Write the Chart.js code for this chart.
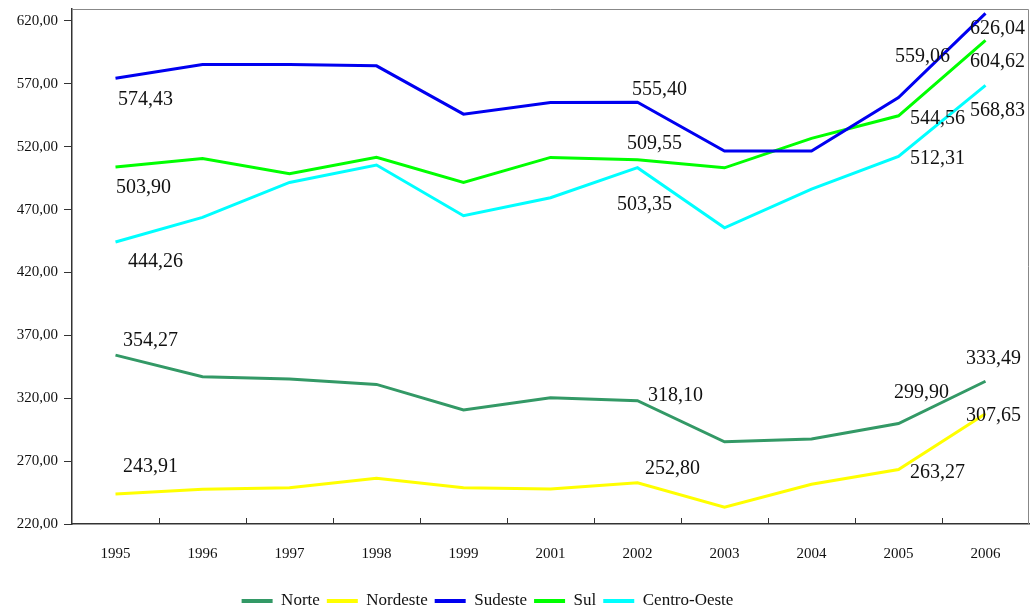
<!DOCTYPE html>
<html>
<head>
<meta charset="utf-8">
<script src="https://cdn.jsdelivr.net/npm/chart.js@4/dist/chart.umd.min.js"></script>
<style>
  html, body { margin: 0; padding: 0; background: #fff; overflow: hidden; }
  #zone { width: 1032px; height: 609px; }
</style>
</head>
<body>
<div id="zone"><canvas id="grafico"></canvas></div>
<script>
// Anos (eixo X)
const anos = ["1995", "1996", "1997", "1998", "1999", "2001", "2002", "2003", "2004", "2005", "2006"];

// Valores por região
const norte = [354.27, 337.1, 335.3, 331.0, 310.6, 320.4, 318.10, 285.4, 287.6, 299.90, 333.49];
const nordeste = [243.91, 247.6, 248.9, 256.3, 248.9, 247.8, 252.80, 233.3, 251.6, 263.27, 307.65];
const sudeste = [574.43, 585.4, 585.4, 584.3, 545.9, 555.2, 555.40, 516.5, 516.5, 559.06, 626.04];
const sul = [503.90, 510.7, 498.5, 511.5, 491.6, 511.5, 509.55, 503.2, 526.6, 544.56, 604.62];
const centroOeste = [444.26, 463.8, 491.6, 505.4, 465.1, 479.4, 503.35, 455.5, 486.3, 512.31, 568.83];

// Marcas do eixo Y
const ticksY = [220, 270, 320, 370, 420, 470, 520, 570, 620];

// Pontos que recebem rótulo (índices dos anos)
const indicesRotulados = [0, 6, 9, 10];

// Deslocamento dos rótulos em relação ao ponto (px), na ordem de indicesRotulados
const decalagens = [
    [[35, -14], [38, -5], [23, -31], [8, -23]],   // Norte
    [[35, -27], [35, -14], [39, 3], [8, 2]],      // Nordeste
    [[30, 21], [22, -12], [24, -41], [12, 15]],   // Sudeste
    [[28, 21], [17, -16], [39, 3], [12, 21]],     // Sul
    [[40, 20], [7, 37], [39, 2], [12, 25]]        // Centro-Oeste
];

const fonteSerif = "'Liberation Serif', 'Times New Roman', serif";

function formatar(v) {
    return v.toFixed(2).replace(".", ",");
}

function serie(nome, valores, cor) {
    return {
        label: nome,
        data: valores,
        borderColor: cor,
        backgroundColor: cor,
        borderWidth: 3,
        pointRadius: 0,
        pointHoverRadius: 0,
        tension: 0
    };
}

// Moldura cinza (topo e direita), marcas internas do eixo X, legenda deslocada
const moldura = {
    id: "moldura",
    afterLayout(chart) {
        // a legenda do original fica um pouco à esquerda do centro
        chart.legend.left -= 27;
        chart.legend.right -= 27;
    },
    afterDraw(chart) {
        const ctx = chart.ctx;
        const area = chart.chartArea;
        const x = chart.scales.x;
        ctx.save();
        ctx.strokeStyle = "#888";
        ctx.lineWidth = 1;
        ctx.beginPath();
        ctx.moveTo(area.left, area.top + 0.5);
        ctx.lineTo(area.right - 0.5, area.top + 0.5);
        ctx.lineTo(area.right - 0.5, area.bottom);
        ctx.stroke();
        ctx.strokeStyle = "#333";
        ctx.lineWidth = 1;
        for (let i = 1; i < anos.length; i++) {
            const px = Math.round(x.getPixelForValue(i - 0.5)) + 0.5;
            ctx.beginPath();
            ctx.moveTo(px, area.bottom);
            ctx.lineTo(px, area.bottom - 6);
            ctx.stroke();
        }
        ctx.restore();
    }
};

// Rótulos de valores
const rotulos = {
    id: "rotulos",
    afterDatasetsDraw(chart) {
        const ctx = chart.ctx;
        ctx.save();
        ctx.font = "20px " + fonteSerif;
        ctx.fillStyle = "#111";
        ctx.textAlign = "center";
        ctx.textBaseline = "middle";
        chart.data.datasets.forEach((ds, d) => {
            indicesRotulados.forEach((idx, k) => {
                const px = chart.scales.x.getPixelForValue(idx);
                const py = chart.scales.y.getPixelForValue(ds.data[idx]);
                const off = decalagens[d][k];
                ctx.fillText(formatar(ds.data[idx]), px + off[0], py + off[1]);
            });
        });
        ctx.restore();
    }
};

const config = {
    type: "line",
    data: {
        labels: anos,
        datasets: [
            serie("Norte", norte, "#339966"),
            serie("Nordeste", nordeste, "#FFFF00"),
            serie("Sudeste", sudeste, "#0000F0"),
            serie("Sul", sul, "#00FF00"),
            serie("Centro-Oeste", centroOeste, "#00FFFF")
        ]
    },
    options: {
        responsive: true,
        maintainAspectRatio: false,
        animation: false,
        layout: { padding: { top: 9, right: 3, left: 0, bottom: -10.5 } },
        plugins: {
            tooltip: { enabled: false },
            legend: {
                position: "bottom",
                labels: {
                    boxWidth: 31,
                    boxHeight: 4,
                    padding: 7,
                    color: "#111",
                    font: { family: fonteSerif, size: 17 },
                    generateLabels(chart) {
                        const itens = Chart.defaults.plugins.legend.labels.generateLabels(chart);
                        itens.forEach(it => { it.lineWidth = 0; });
                        return itens;
                    }
                }
            }
        },
        scales: {
            x: {
                type: "category",
                offset: true,
                grid: { display: false, drawTicks: false, offset: true },
                border: { display: true, color: "#333", width: 1.5 },
                ticks: {
                    padding: 21,
                    color: "#111",
                    maxRotation: 0,
                    font: { family: fonteSerif, size: 15 }
                },
                afterFit(scale) { scale.height = 61.5; }
            },
            y: {
                min: 220,
                max: 629.5,
                grid: { drawOnChartArea: false, drawTicks: true, tickLength: 8, color: "#333" },
                border: { display: true, color: "#333", width: 1.5 },
                ticks: {
                    padding: 6,
                    color: "#111",
                    font: { family: fonteSerif, size: 15 },
                    callback: (v) => formatar(v)
                },
                afterBuildTicks(scale) {
                    scale.ticks = ticksY.map(v => ({ value: v }));
                },
                afterFit(scale) {
                    scale.width = 72;
                    scale.paddingTop = 0;
                    scale.paddingBottom = 0;
                }
            }
        }
    },
    plugins: [moldura, rotulos]
};

const graficoRegioes = new Chart(document.getElementById("grafico"), config);
</script>
</body>
</html>
